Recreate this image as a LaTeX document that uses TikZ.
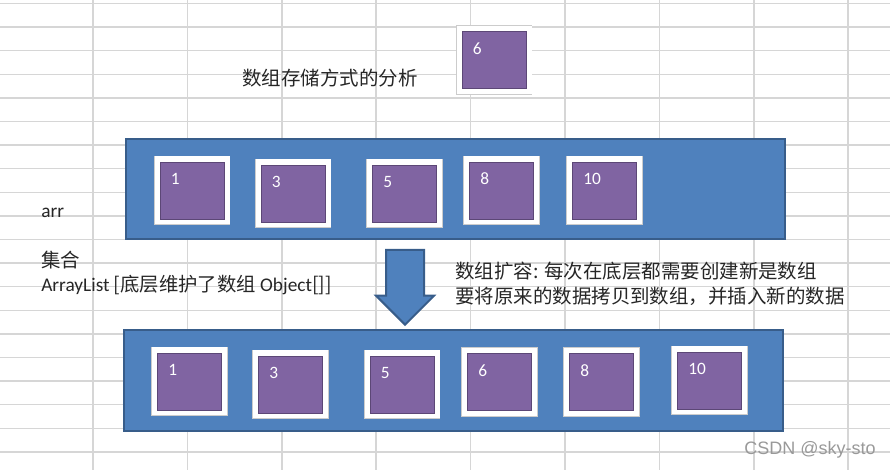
\documentclass[tikz,border=0pt]{standalone}
\usepackage{fontspec}
\setmainfont{Carlito}
\newfontfamily\cjk{Noto Sans CJK SC}
\newfontfamily\wmfont{Liberation Sans}
\usetikzlibrary{shapes.arrows}

\definecolor{gridgray}{HTML}{D6D6D6}
\definecolor{arrblue}{HTML}{4F81BD}
\definecolor{arredge}{HTML}{385D8A}
\definecolor{cellfill}{HTML}{8064A2}
\definecolor{celledge}{HTML}{5C4776}

\tikzset{
  gridline/.style={draw=gridgray, line width=1.1pt},
  array/.style={draw=arredge, fill=arrblue, line width=1.5pt, inner sep=0pt},
  cell/.style={draw=celledge, fill=cellfill, line width=0.5pt, inner sep=0pt,
    minimum width=48pt, minimum height=42.75pt,
    preaction={draw=black!20, line width=9.6pt},
    preaction={draw=white, line width=8.25pt}},
  num/.style={text=white, font=\fontsize{13}{13}\selectfont, inner sep=0pt,
    anchor=north west, xshift=8.25pt, yshift=-8.25pt},
  txt/.style={inner sep=0pt, text=black!85, font=\fontsize{14.5}{19}\selectfont},
  cjktxt/.style={inner sep=0pt, text=black!85, font=\cjk\fontsize{14.6}{19.1}\selectfont},
  bigarrow/.style={single arrow, draw=arredge, fill=arrblue, line width=1.5pt,
    inner sep=0pt, text height=27pt, text depth=0pt, minimum height=56pt,
    single arrow head extend=7.5pt, single arrow head indent=0pt}
}

\begin{document}
\begin{tikzpicture}[x=0.75pt,y=-0.75pt]
\useasboundingbox (0,0) rectangle (890,470);
% sheet grid
\foreach \k in {0,...,19}
	\draw [gridline] (0,{3.5+23.6*\k}) -- (890,{3.5+23.6*\k});
\foreach \k in {0,...,8}
	\draw [gridline] ({93+94.4*\k},0) -- ({93+94.4*\k},470);

% old array and new array
\node [array, minimum width=494.25pt, minimum height=75pt] (oldarr) at (455.5,189) {};
\node [array, minimum width=494.25pt, minimum height=75.75pt] (newarr) at (453.5,380.5) {};
\node [bigarrow, rotate=-90, anchor=tail] (grow) at (405,249) {};

% elements
\foreach \x/\y/\v in {192/190.5/1, 293/193.5/3, 404.5/193.5/5, 501.5/190.5/8, 604.5/190.5/10}
{
	\node [cell] (old\v) at (\x,\y) {};
	\node [num] (oldn\v) at (old\v.north west) {\v};
}
\node [cell] (add6) at (494,60) {};
\node [num] (addn6) at (add6.north west) {6};
\foreach \x/\y/\v in {189.5/381.5/1, 290.5/384.5/3, 402/384.5/5, 499.5/382/6, 601.5/382/8, 709.5/380.5/10}
{
	\node [cell] (new\v) at (\x,\y) {};
	\node [num] (newn\v) at (new\v.north west) {\v};
}

% texts
\node [cjktxt, anchor=west] (title) at (242,78) {数组存储方式的分析};
\node [txt, anchor=base west] (arrname) at (41,218) {arr};
\node [cjktxt, anchor=west] (coll) at (41,260) {集合};
\node [txt, anchor=base west] (alist) at (41,292) {ArrayList {\cjk [底层维护了数组} Object{\cjk []]}};
\node [cjktxt, anchor=west, align=left] (grownote) at (455,284)
	{数组扩容: 每次在底层都需要创建新是数组\\要将原来的数据拷贝到数组，并插入新的数据};
\node [inner sep=0pt, anchor=west, text=black!40, font=\wmfont\fontsize{13.5}{14}\selectfont] (mark) at (744,450) {CSDN @sky-sto};
\end{tikzpicture}
\end{document}
